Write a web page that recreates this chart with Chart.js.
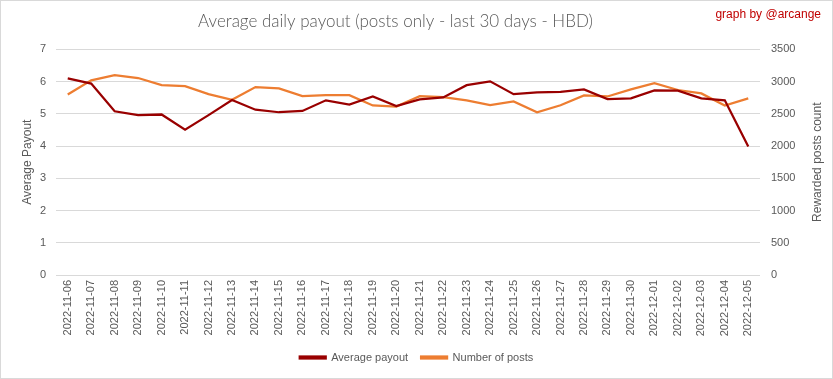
<!DOCTYPE html>
<html>
<head>
<meta charset="utf-8">
<script src="https://cdn.jsdelivr.net/npm/chart.js@4/dist/chart.umd.min.js"></script>
<style>
  html, body { margin: 0; padding: 0; background: #ffffff; }
  #wrap { width: 833px; height: 379px; }
</style>
</head>
<body>
<div id="wrap"><canvas id="payoutChart" width="833" height="379"></canvas></div>
<script>
const days = [
  "2022-11-06", "2022-11-07", "2022-11-08", "2022-11-09", "2022-11-10", "2022-11-11",
  "2022-11-12", "2022-11-13", "2022-11-14", "2022-11-15", "2022-11-16", "2022-11-17",
  "2022-11-18", "2022-11-19", "2022-11-20", "2022-11-21", "2022-11-22", "2022-11-23",
  "2022-11-24", "2022-11-25", "2022-11-26", "2022-11-27", "2022-11-28", "2022-11-29",
  "2022-11-30", "2022-12-01", "2022-12-02", "2022-12-03", "2022-12-04", "2022-12-05"
];
const averagePayout = [
  6.10, 5.94, 5.08, 4.96, 4.98, 4.51, 4.96, 5.43, 5.13, 5.05, 5.09, 5.42,
  5.29, 5.54, 5.24, 5.45, 5.51, 5.89, 6.01, 5.61, 5.67, 5.68, 5.76, 5.46,
  5.48, 5.73, 5.72, 5.48, 5.42, 3.99
];
const postCount = [
  2800, 3020, 3100, 3056, 2947, 2931, 2806, 2719, 2916, 2895, 2775, 2791,
  2791, 2630, 2614, 2775, 2760, 2708, 2634, 2692, 2525, 2634, 2785, 2770,
  2880, 2975, 2870, 2817, 2630, 2740
];
const payoutMax = 7;
const postsMax = 3500;

const grey = "#595959";
const tickFont = { family: "Liberation Sans", size: 11 };

// white card with thin border, credit line, and both axis titles reading upwards
const chartDecor = {
  id: "chartDecor",
  beforeDraw(chart) {
    const ctx = chart.ctx;
    ctx.save();
    ctx.fillStyle = "#ffffff";
    ctx.fillRect(0, 0, chart.width, chart.height);
    ctx.strokeStyle = "#d9d9d9";
    ctx.lineWidth = 1;
    ctx.strokeRect(0.5, 0.5, chart.width - 1, chart.height - 1);
    ctx.restore();
  },
  afterLayout(chart) {
    // title sits a little left of the canvas centre, like the original
    chart.titleBlock.left -= 21;
    chart.titleBlock.right -= 21;
  },
  afterDraw(chart) {
    const ctx = chart.ctx;
    const area = chart.chartArea;
    const midY = (area.top + area.bottom) / 2;
    ctx.save();
    ctx.fillStyle = "#c00000";
    ctx.font = "12px 'Liberation Sans'";
    ctx.textAlign = "right";
    ctx.textBaseline = "middle";
    ctx.fillText("graph by @arcange", 821, 15);

    ctx.fillStyle = grey;
    ctx.textAlign = "center";
    ctx.font = "12px 'Liberation Sans'";
    ctx.translate(28, midY);
    ctx.rotate(-Math.PI / 2);
    ctx.fillText("Average Payout", 0, 0);
    ctx.restore();

    ctx.save();
    ctx.fillStyle = grey;
    ctx.textAlign = "center";
    ctx.textBaseline = "middle";
    ctx.font = "12px 'Liberation Sans'";
    ctx.translate(818, midY);
    ctx.rotate(-Math.PI / 2);
    ctx.fillText("Rewarded posts count", 0, 0);
    ctx.restore();
  }
};

new Chart(document.getElementById("payoutChart"), {
  type: "line",
  data: {
    labels: days,
    datasets: [
      {
        label: "Average payout",
        data: averagePayout,
        yAxisID: "y",
        borderColor: "#990000",
        backgroundColor: "#990000",
        borderWidth: 2.25,
        pointRadius: 0,
        tension: 0
      },
      {
        label: "Number of posts",
        data: postCount,
        yAxisID: "y1",
        borderColor: "#ed7d31",
        backgroundColor: "#ed7d31",
        borderWidth: 2.25,
        pointRadius: 0,
        tension: 0
      }
    ]
  },
  options: {
    responsive: false,
    animation: false,
    layout: { padding: { left: 0, right: 0, top: 0, bottom: 6 } },
    plugins: {
      title: {
        display: true,
        text: "Average daily payout (posts only - last 30 days - HBD)",
        color: grey,
        font: { family: "Lato", size: 17, weight: 300 },
        padding: { top: 11, bottom: 18 }
      },
      legend: {
        position: "bottom",
        labels: {
          color: grey,
          font: { family: "Liberation Sans", size: 11 },
          boxWidth: 26,
          boxHeight: 2,
          padding: 13
        }
      },
      tooltip: { enabled: false }
    },
    scales: {
      x: {
        offset: true,
        grid: { display: false, drawTicks: false },
        border: { display: false },
        ticks: {
          color: grey,
          font: tickFont,
          autoSkip: false,
          maxRotation: 90,
          minRotation: 90,
          padding: 5
        },
        afterFit(scale) { scale.height = 64; }
      },
      y: {
        position: "left",
        min: 0,
        max: payoutMax,
        grid: { color: "#d9d9d9", drawTicks: false },
        border: { display: false },
        ticks: { stepSize: 1, color: grey, font: tickFont, padding: 10 },
        afterFit(scale) { scale.width = 56; }
      },
      y1: {
        position: "right",
        min: 0,
        max: postsMax,
        grid: { display: false, drawTicks: false },
        border: { display: false },
        ticks: {
          stepSize: 500,
          color: grey,
          font: tickFont,
          padding: 11,
          callback: (value) => String(value)
        },
        afterFit(scale) { scale.width = 73; }
      }
    }
  },
  plugins: [chartDecor]
});
</script>
</body>
</html>
